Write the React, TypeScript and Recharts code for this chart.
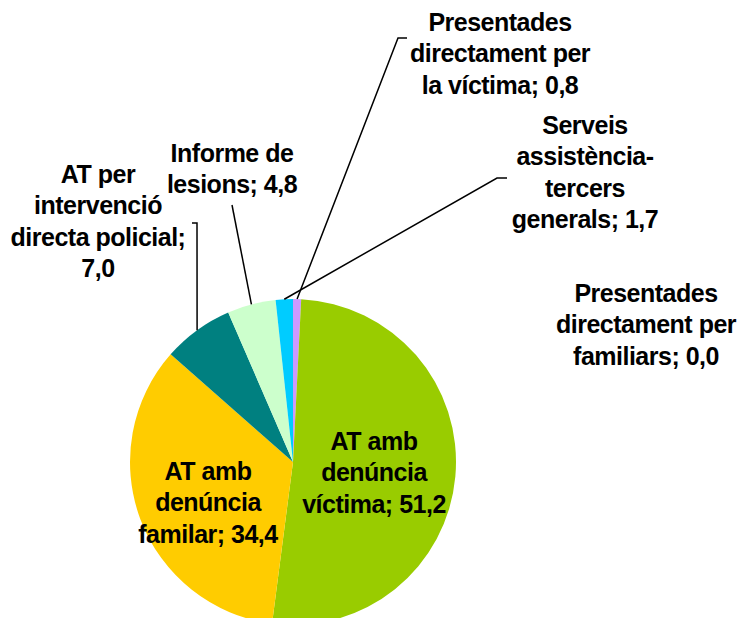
import React from 'react';
import { PieChart, Pie, Cell } from 'recharts';

const categories = [
  'Presentades directament per la víctima',
  'AT amb denúncia víctima',
  'AT amb denúncia familar',
  'AT per intervenció directa policial',
  'Informe de lesions',
  'Serveis assistència-tercers generals',
  'Presentades directament per familiars',
];
const values = [0.8, 51.2, 34.4, 7.0, 4.8, 1.7, 0.0];
const labelTexts = [
  ['Presentades', 'directament per', 'la víctima; 0,8'],
  ['AT amb', 'denúncia', 'víctima; 51,2'],
  ['AT amb', 'denúncia', 'familar; 34,4'],
  ['AT per', 'intervenció', 'directa policial;', '7,0'],
  ['Informe de', 'lesions; 4,8'],
  ['Serveis', 'assistència-', 'tercers', 'generals; 1,7'],
  ['Presentades', 'directament per', 'familiars; 0,0'],
];
const colors = ['#CC99FF', '#99CC00', '#FFCC00', '#008080', '#CCFFCC', '#00CCFF', '#FF8080'];

// label layout: centre x, first baseline y, leader elbow points (from label towards pie)
const labelLayout: { x: number; y: number; leader: number[][] | null }[] = [
  { x: 500, y: 31, leader: [[407, 38], [398, 38]] },
  { x: 374, y: 450, leader: null },
  { x: 208, y: 480, leader: null },
  { x: 98, y: 183, leader: [[192, 223], [197, 223]] },
  { x: 232, y: 162, leader: [[232, 205]] },
  { x: 585, y: 134, leader: [[507, 178], [497, 178]] },
  { x: 646, y: 302, leader: null },
];
const LINE_H = 31.3;
const RAD = Math.PI / 180;

const data = categories.map((name, i) => ({ name, value: values[i] }));

const renderLabel = (props: any) => {
  const { cx, cy, midAngle, outerRadius, index } = props;
  const lay = labelLayout[index];
  const lines = labelTexts[index];
  let leader = null;
  if (lay.leader) {
    const px = cx + outerRadius * Math.cos(-midAngle * RAD);
    const py = cy + outerRadius * Math.sin(-midAngle * RAD);
    const pts = [...lay.leader, [px, py]].map((p) => p.join(',')).join(' ');
    leader = <polyline points={pts} fill="none" stroke="#000" strokeWidth={1.5} />;
  }
  return (
    <g key={`lbl-${index}`}>
      {leader}
      <text
        x={lay.x}
        y={lay.y}
        textAnchor="middle"
        fill="#000"
        fontFamily="'Liberation Sans', Arial, sans-serif"
        fontWeight="bold"
        fontSize={25}
        letterSpacing={-0.5}
      >
        {lines.map((t, j) => (
          <tspan key={j} x={lay.x} y={lay.y + j * LINE_H}>
            {t}
          </tspan>
        ))}
      </text>
    </g>
  );
};

export default function App() {
  return (
    <div style={{ position: 'absolute', left: 0, top: 0, width: 746, height: 618, background: '#fff' }}>
      <PieChart width={746} height={618} margin={{ top: 0, right: 0, bottom: 0, left: 0 }}>
        <Pie
          data={data}
          dataKey="value"
          nameKey="name"
          cx={293}
          cy={462}
          outerRadius={163}
          startAngle={90}
          endAngle={-270}
          stroke="none"
          label={renderLabel}
          labelLine={false}
          isAnimationActive={false}
        >
          {data.map((d, i) => (
            <Cell key={d.name} fill={colors[i]} />
          ))}
        </Pie>
      </PieChart>
    </div>
  );
}
